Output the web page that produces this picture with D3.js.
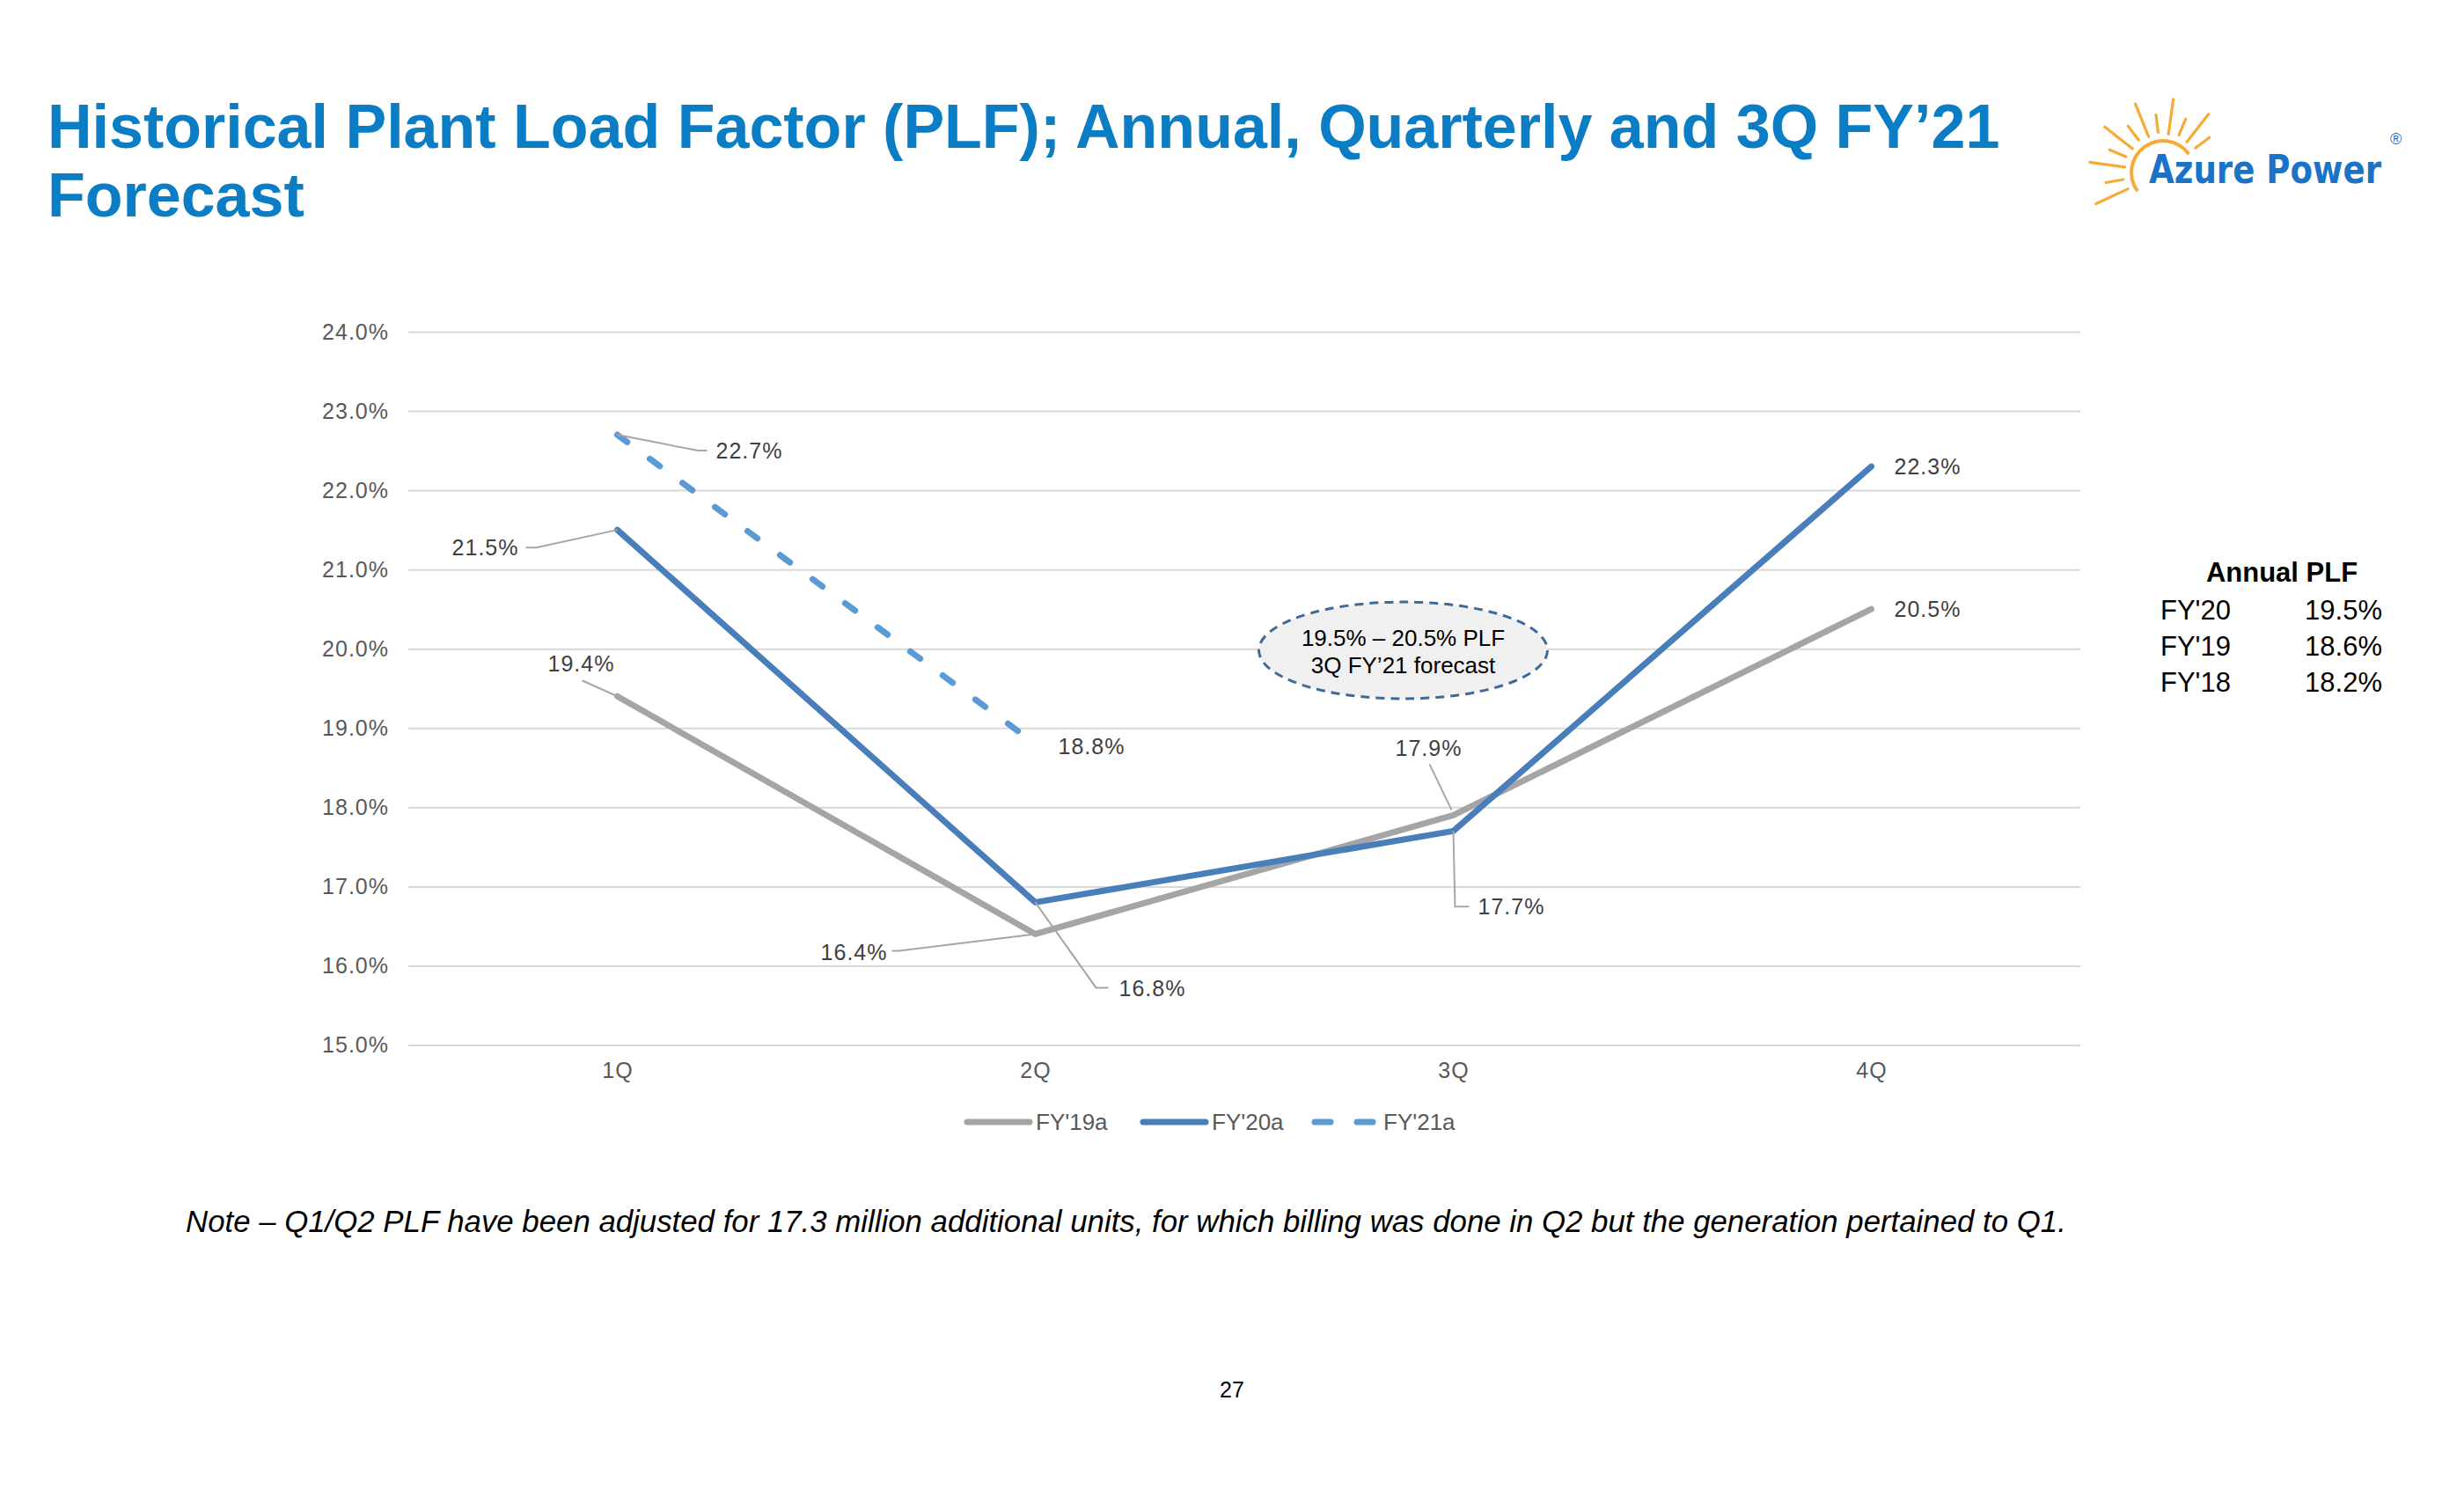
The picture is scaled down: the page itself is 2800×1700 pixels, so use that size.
<!DOCTYPE html>
<html>
<head>
<meta charset="utf-8">
<script src="https://cdn.jsdelivr.net/npm/d3@7"></script>
<style>
  html, body { margin: 0; padding: 0; background: #ffffff; }
  svg { display: block; }
</style>
</head>
<body>
<svg id="chart" width="2800" height="1700"></svg>
<script>
// ---------------- DATA ----------------
const categories = ["1Q", "2Q", "3Q", "4Q"];
const fy19a = [19.4, 16.4, 17.9, 20.5];
const fy20a = [21.5, 16.8, 17.7, 22.3];
const fy21a = [22.7, 18.8];
const seriesNames = ["FY'19a", "FY'20a", "FY'21a"];
const yTicks = [15, 16, 17, 18, 19, 20, 21, 22, 23, 24];
const annualYears = ["FY'20", "FY'19", "FY'18"];
const annualPLF = ["19.5%", "18.6%", "18.2%"];
const titleLines = ["Historical Plant Load Factor (PLF); Annual, Quarterly and 3Q FY\u201921", "Forecast"];
const forecastText = ["19.5% \u2013 20.5% PLF", "3Q FY\u201921 forecast"];
const noteText = "Note \u2013 Q1/Q2 PLF have been adjusted for 17.3 million additional units, for which billing was done in Q2 but the generation pertained to Q1.";
const pageNumber = "27";

// ---------------- LAYOUT ----------------
const svg = d3.select("#chart");
const FONT = "'Liberation Sans', Arial, Helvetica, sans-serif";
const plot = { left: 464, right: 2364, top: 377, bottom: 1187.5 };

const x = d3.scalePoint().domain(categories).range([plot.left, plot.right]).padding(0.5);
const y = d3.scaleLinear().domain([15, 24]).range([plot.bottom, plot.top]);

const series = [
  { name: seriesNames[0], values: fy19a, color: "#a5a5a5", dash: null },
  { name: seriesNames[1], values: fy20a, color: "#4a7ebb", dash: null },
  { name: seriesNames[2], values: fy21a, color: "#5b9bd5", dash: "14,32" }
];

// label placement (offsets from data point) + leader lines
const labelLayout = [
  [ {dx:-41, dy:-37, a:"middle", lead:[[0,0],[-40,-18]]},
    {dx:-168, dy:21, a:"end", lead:[[0,0],[-155,19],[-163,19]]},
    {dx:-28, dy:-76, a:"middle", lead:[[-2,-6],[-27,-58]]},
    {dx:26, dy:0, a:"start", lead:null} ],
  [ {dx:-112, dy:20, a:"end", lead:[[0,0],[-92,20],[-104,20]]},
    {dx:95, dy:98, a:"start", lead:[[0,0],[69,97],[83,97]]},
    {dx:28, dy:86, a:"start", lead:[[0,0],[2,86],[18,86]]},
    {dx:26, dy:0, a:"start", lead:null} ],
  [ {dx:112, dy:18, a:"start", lead:[[0,0],[92,18],[102,18]]},
    {dx:26, dy:3, a:"start", lead:null} ]
];

// ---------------- TITLE ----------------
svg.append("g").selectAll("text").data(titleLines).join("text")
  .attr("x", 54).attr("y", (d, i) => 168 + i * 78)
  .attr("font-family", FONT).attr("font-weight", "bold").attr("font-size", 70)
  .attr("fill", "#0b7dc4").text(d => d);

// ---------------- LOGO ----------------
const logo = svg.append("g").attr("transform", "translate(2458,196)");
const rayAngles = [205, 190, 172, 157, 142, 127, 112, 97, 82, 67, 52, 37];
rayAngles.forEach((a, i) => {
  const r = a * Math.PI / 180;
  const long = i % 2 === 0;
  const r0 = long ? 44 : 46, r1 = long ? 84 : 66;
  logo.append("line")
    .attr("x1", Math.cos(r) * r0).attr("y1", -Math.sin(r) * r0)
    .attr("x2", Math.cos(r) * r1).attr("y2", -Math.sin(r) * r1)
    .attr("stroke", "#f5ab35").attr("stroke-width", 3.2).attr("stroke-linecap", "round");
});
logo.append("path")
  .attr("d", d3.arc()({ innerRadius: 34, outerRadius: 38, startAngle: -2.2, endAngle: 0.95 }))
  .attr("fill", "#f5ab35");
svg.append("text").attr("x", 2442).attr("y", 208)
  .attr("font-family", "'DejaVu Sans', Verdana, sans-serif").attr("font-weight", "bold")
  .attr("font-size", 44).attr("textLength", 264).attr("lengthAdjust", "spacingAndGlyphs")
  .attr("fill", "#1b73c8").text("Azure Power");
svg.append("text").attr("x", 2716).attr("y", 164)
  .attr("font-family", FONT).attr("font-size", 18)
  .attr("fill", "#1b73c8").text("\u00AE");

// ---------------- AXES ----------------
const yAxis = d3.axisLeft(y).tickValues(yTicks)
  .tickFormat(d => d3.format(".1f")(d) + "%")
  .tickSize(-(plot.right - plot.left)).tickPadding(22);
const gy = svg.append("g").attr("transform", `translate(${plot.left},0)`).call(yAxis);
gy.select(".domain").remove();
gy.selectAll(".tick line").attr("stroke", "#d9d9d9").attr("stroke-width", 2);
gy.selectAll(".tick text").attr("font-family", FONT).attr("font-size", 25)
  .attr("fill", "#595959").attr("letter-spacing", 1);

const xAxis = d3.axisBottom(x).tickSize(0).tickPadding(20);
const gx = svg.append("g").attr("transform", `translate(0,${plot.bottom})`).call(xAxis);
gx.select(".domain").remove();
gx.selectAll(".tick text").attr("font-family", FONT).attr("font-size", 25)
  .attr("fill", "#595959").attr("letter-spacing", 1);

// ---------------- LINES ----------------
const line = d3.line().x((d, i) => x(categories[i])).y(d => y(d));
series.forEach(s => {
  svg.append("path").datum(s.values)
    .attr("d", line).attr("fill", "none")
    .attr("stroke", s.color).attr("stroke-width", 7)
    .attr("stroke-linejoin", "round")
    .attr("stroke-linecap", "round")
    .attr("stroke-dasharray", s.dash);
});

// ---------------- DATA LABELS ----------------
const lg = svg.append("g");
series.forEach((s, si) => {
  s.values.forEach((v, i) => {
    const px = x(categories[i]), py = y(v);
    const L = labelLayout[si][i];
    if (L.lead) {
      lg.append("polyline")
        .attr("points", L.lead.map(p => [px + p[0], py + p[1]].join(",")).join(" "))
        .attr("fill", "none").attr("stroke", "#a6a6a6").attr("stroke-width", 2);
    }
    lg.append("text").attr("x", px + L.dx).attr("y", py + L.dy)
      .attr("dy", "0.35em").attr("text-anchor", L.a)
      .attr("font-family", FONT).attr("font-size", 25).attr("letter-spacing", 1)
      .attr("fill", "#404040").text(d3.format(".1f")(v) + "%");
  });
});

// ---------------- FORECAST ELLIPSE ----------------
const ell = svg.append("g").attr("transform", `translate(${x("3Q") - 57},${y(19.98)})`);
ell.append("ellipse").attr("rx", 164).attr("ry", 55)
  .attr("fill", "#f0f0f0").attr("stroke", "#3f6a98").attr("stroke-width", 3)
  .attr("stroke-dasharray", "10,7");
ell.selectAll("text").data(forecastText).join("text")
  .attr("x", 0).attr("y", (d, i) => -14 + i * 31).attr("dy", "0.35em")
  .attr("text-anchor", "middle").attr("font-family", FONT).attr("font-size", 26)
  .attr("fill", "#000").text(d => d);

// ---------------- LEGEND ----------------
const legendX = [1095, 1295, 1490];
const legend = svg.append("g").attr("transform", "translate(0,1275)");
series.forEach((s, i) => {
  const g = legend.append("g").attr("transform", `translate(${legendX[i]},0)`);
  g.append("line").attr("x1", 4).attr("x2", 75).attr("y1", 0).attr("y2", 0)
    .attr("stroke", s.color).attr("stroke-width", 7).attr("stroke-linecap", "round")
    .attr("stroke-dasharray", s.dash ? "18,30" : null);
  g.append("text").attr("x", 82).attr("y", 0).attr("dy", "0.35em")
    .attr("font-family", FONT).attr("font-size", 26).attr("fill", "#595959").text(s.name);
});

// ---------------- ANNUAL PLF TABLE ----------------
svg.append("text").attr("x", 2593).attr("y", 650).attr("dy", "0.35em")
  .attr("text-anchor", "middle").attr("font-family", FONT).attr("font-weight", "bold")
  .attr("font-size", 31).attr("fill", "#000").text("Annual PLF");
annualYears.forEach((yr, i) => {
  svg.append("text").attr("x", 2455).attr("y", 693 + i * 41).attr("dy", "0.35em")
    .attr("font-family", FONT).attr("font-size", 31).attr("fill", "#000").text(yr);
  svg.append("text").attr("x", 2707).attr("y", 693 + i * 41).attr("dy", "0.35em")
    .attr("text-anchor", "end").attr("font-family", FONT).attr("font-size", 31)
    .attr("fill", "#000").text(annualPLF[i]);
});

// ---------------- NOTE & PAGE ----------------
svg.append("text").attr("x", 211).attr("y", 1388).attr("dy", "0.35em")
  .attr("font-family", FONT).attr("font-style", "italic").attr("font-size", 34.8)
  .attr("fill", "#000").text(noteText);
svg.append("text").attr("x", 1400).attr("y", 1579).attr("dy", "0.35em")
  .attr("text-anchor", "middle").attr("font-family", FONT).attr("font-size", 25)
  .attr("fill", "#000").text(pageNumber);
</script>
</body>
</html>
